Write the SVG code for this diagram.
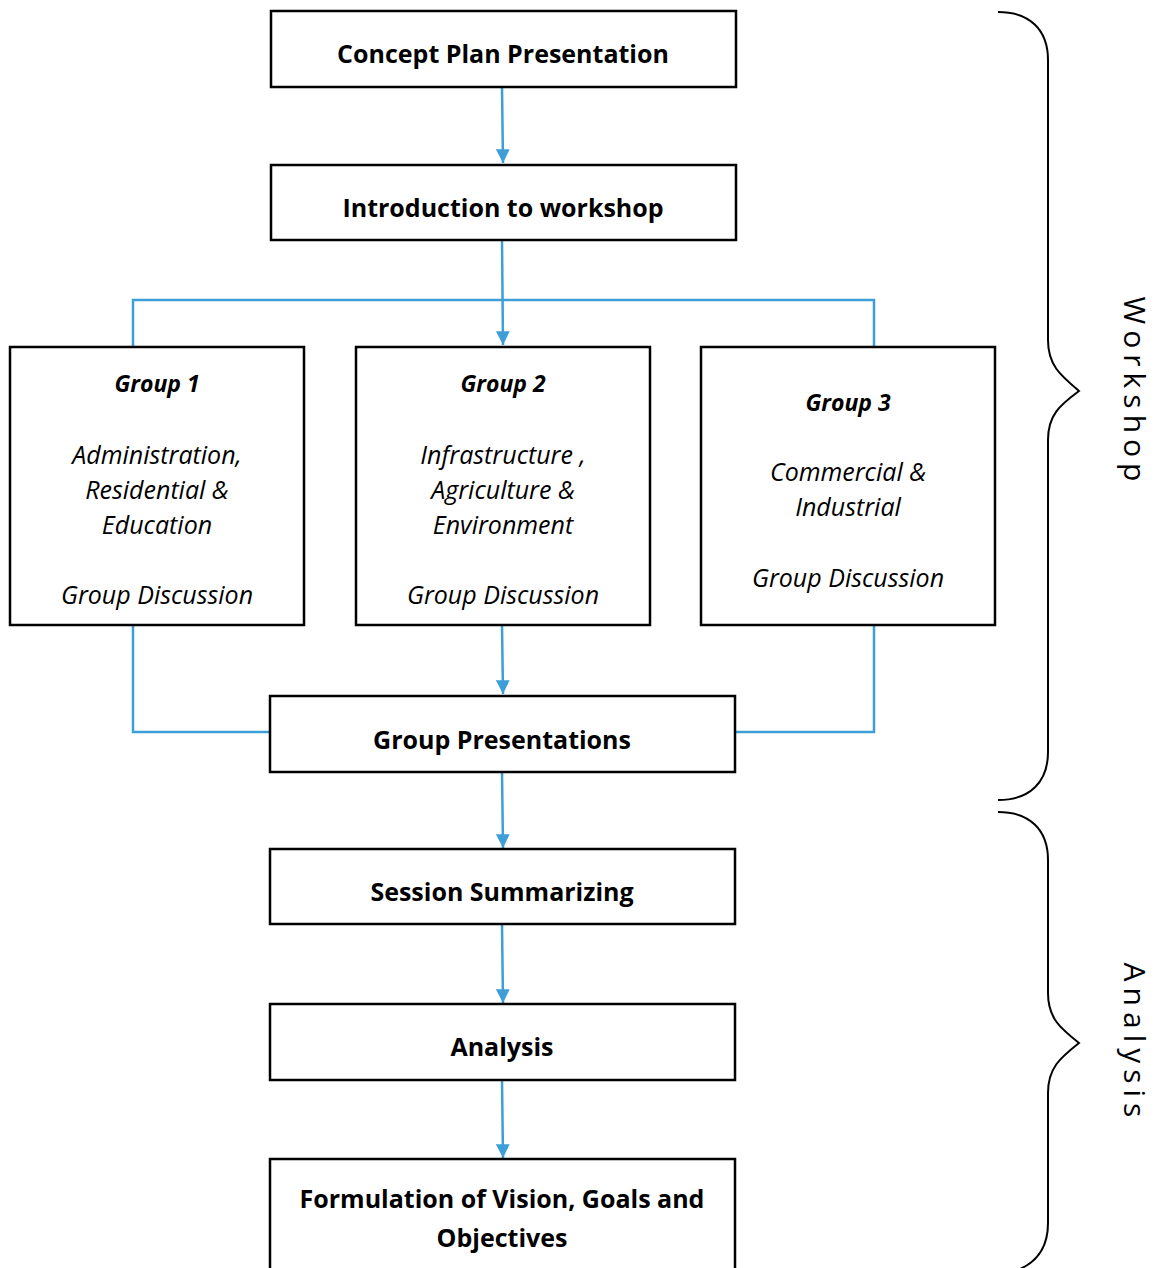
<svg xmlns="http://www.w3.org/2000/svg" width="1159" height="1268" viewBox="0 0 1159 1268">
<defs>
<marker id="ah" viewBox="0 0 10 10" refX="10" refY="5" markerWidth="6.5" markerHeight="5.5" markerUnits="strokeWidth" orient="auto">
<path d="M0,0 L10,5 L0,10 z" fill="#3E9ED8"/>
</marker>
<style>
.box{fill:#fff;stroke:#000;stroke-width:2.5}
.t{font-family:"Open Sans","Noto Sans",sans-serif;font-weight:700;font-size:25px;fill:#000;text-anchor:middle}
.g{font-family:"Open Sans","Noto Sans",sans-serif;font-style:italic;font-weight:500;font-size:25px;fill:#000;text-anchor:middle}
.gb{font-weight:700;font-size:23px}
.c{fill:none;stroke:#3E9ED8;stroke-width:2.5}
.br{fill:none;stroke:#000;stroke-width:2}
.side{font-family:"Open Sans","Noto Sans",sans-serif;font-weight:500;font-size:30px;letter-spacing:6px;fill:#000;text-anchor:middle}
</style>
</defs>
<rect width="1159" height="1268" fill="#fff"/>
<g id="connectors">
<path class="c" d="M502,87 L503,163" marker-end="url(#ah)"/>
<path class="c" d="M502,240 L503,345" marker-end="url(#ah)"/>
<path class="c" d="M133,347 L133,300 L874,300 L874,347"/>
<path class="c" d="M502,625 L503,694" marker-end="url(#ah)"/>
<path class="c" d="M133,625 L133,732 L270,732"/>
<path class="c" d="M874,625 L874,732 L735,732"/>
<path class="c" d="M502,772 L503,848" marker-end="url(#ah)"/>
<path class="c" d="M502,924 L503,1003" marker-end="url(#ah)"/>
<path class="c" d="M502,1080 L503,1158" marker-end="url(#ah)"/>
</g>
<g id="n1"><rect class="box" x="271" y="11" width="465" height="76"/><text class="t" x="503" y="63">Concept Plan Presentation</text></g>
<g id="n2"><rect class="box" x="271" y="165" width="465" height="75"/><text class="t" x="503" y="217">Introduction to workshop</text></g>
<g id="g1"><rect class="box" x="10" y="347" width="294" height="278"/>
<text class="g" x="157" y="392"><tspan class="gb">Group 1</tspan></text>
<text class="g" x="157" y="464">Administration,</text>
<text class="g" x="157" y="499">Residential &amp;</text>
<text class="g" x="157" y="534">Education</text>
<text class="g" x="157" y="604">Group Discussion</text></g>
<g id="g2"><rect class="box" x="356" y="347" width="294" height="278"/>
<text class="g" x="503" y="392"><tspan class="gb">Group 2</tspan></text>
<text class="g" x="503" y="464">Infrastructure ,</text>
<text class="g" x="503" y="499">Agriculture &amp;</text>
<text class="g" x="503" y="534">Environment</text>
<text class="g" x="503" y="604">Group Discussion</text></g>
<g id="g3"><rect class="box" x="701" y="347" width="294" height="278"/>
<text class="g" x="848" y="411"><tspan class="gb">Group 3</tspan></text>
<text class="g" x="848" y="481">Commercial &amp;</text>
<text class="g" x="848" y="516">Industrial</text>
<text class="g" x="848" y="587">Group Discussion</text></g>
<g id="n3"><rect class="box" x="270" y="696" width="465" height="76"/><text class="t" x="502" y="749">Group Presentations</text></g>
<g id="n4"><rect class="box" x="270" y="849" width="465" height="75"/><text class="t" x="502" y="901">Session Summarizing</text></g>
<g id="n5"><rect class="box" x="270" y="1004" width="465" height="76"/><text class="t" x="502" y="1056">Analysis</text></g>
<g id="n6"><rect class="box" x="270" y="1159" width="465" height="115"/><text class="t" x="502" y="1208">Formulation of Vision, Goals and</text><text class="t" x="502" y="1247">Objectives</text></g>
<g id="brace-workshop">
<path class="br" d="M998,12 C1030,12 1048,30 1048,60 L1048,340 C1048,365 1060,375 1079,391 C1060,405 1048,415 1048,440 L1048,752 C1048,782 1030,800 998,800"/>
<text class="side" transform="translate(1124,392) rotate(90)">Workshop</text>
</g>
<g id="brace-analysis">
<path class="br" d="M998,812 C1030,812 1048,830 1048,860 L1048,993 C1048,1018 1060,1028 1079,1043 C1060,1058 1048,1068 1048,1093 L1048,1223 C1048,1250 1035,1265 1012,1272"/>
<text class="side" transform="translate(1124,1043) rotate(90)">Analysis</text>
</g>
</svg>
